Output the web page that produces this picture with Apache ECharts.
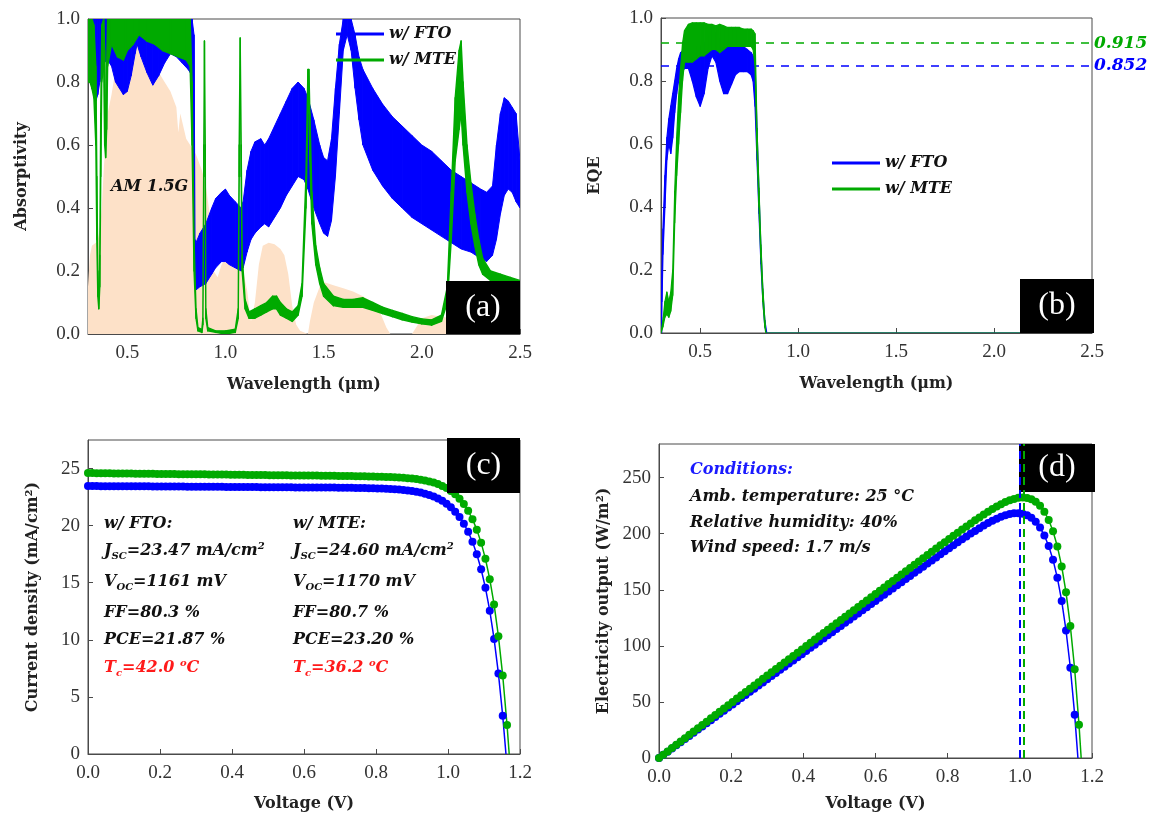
<!DOCTYPE html>
<html>
<head>
<meta charset="utf-8">
<script src="https://cdn.jsdelivr.net/npm/echarts@6/dist/echarts.min.js"></script>
<style>
html,body{margin:0;padding:0;background:#fff;}
#chart{width:1157px;height:817px;}
</style>
</head>
<body>
<div id="chart"></div>
<script>
// ---------------- DATA ----------------
// (a) AM 1.5G spectrum (normalized)
const am15gLam = [0.30,0.31,0.32,0.33,0.34,0.35,0.36,0.37,0.38,0.39,0.40,0.42,0.44,0.46,0.48,0.50,0.52,0.54,0.55,0.57,0.60,0.63,0.66,0.69,0.72,0.75,0.76,0.77,0.80,0.82,0.85,0.88,0.90,0.92,0.93,0.94,0.96,0.98,1.00,1.03,1.06,1.09,1.11,1.13,1.15,1.17,1.19,1.22,1.25,1.28,1.30,1.32,1.34,1.36,1.38,1.42,1.43,1.45,1.48,1.50,1.55,1.60,1.65,1.70,1.75,1.78,1.80,1.82,1.84,1.95,1.97,2.00,2.05,2.10,2.15,2.20,2.25,2.30,2.35,2.40,2.45,2.50];
const am15gVal = [0.15,0.25,0.28,0.28,0.29,0.30,0.33,0.40,0.52,0.62,0.70,0.76,0.84,0.86,0.88,0.89,0.90,0.92,0.93,0.90,0.88,0.86,0.83,0.80,0.77,0.72,0.64,0.70,0.62,0.60,0.57,0.52,0.47,0.38,0.30,0.20,0.18,0.22,0.24,0.235,0.22,0.20,0.14,0.04,0.10,0.22,0.28,0.29,0.285,0.27,0.25,0.19,0.09,0.03,0.01,0.0,0.04,0.10,0.15,0.165,0.155,0.145,0.135,0.12,0.10,0.08,0.05,0.02,0.0,0.0,0.02,0.05,0.06,0.055,0.05,0.045,0.04,0.035,0.02,0.01,0.005,0.0];

// (a) Absorptivity, w/ FTO : lower / upper envelope of the oscillating curve
const absFtoLam = [0.30,0.31,0.32,0.33,0.34,0.35,0.36,0.38,0.40,0.42,0.44,0.46,0.48,0.50,0.52,0.54,0.55,0.57,0.60,0.63,0.66,0.69,0.72,0.75,0.78,0.81,0.83,0.84,0.845,0.85,0.87,0.90,0.93,0.95,0.98,1.00,1.02,1.05,1.08,1.09,1.11,1.13,1.15,1.18,1.20,1.22,1.25,1.28,1.31,1.34,1.37,1.40,1.42,1.45,1.48,1.50,1.52,1.54,1.56,1.58,1.60,1.62,1.64,1.66,1.68,1.70,1.75,1.80,1.85,1.90,1.95,2.00,2.05,2.10,2.15,2.20,2.25,2.30,2.33,2.36,2.38,2.40,2.42,2.44,2.46,2.48,2.50];
const absFtoLow = [0.88,0.83,0.78,0.76,0.74,0.76,0.80,0.86,0.87,0.85,0.80,0.78,0.76,0.77,0.82,0.89,0.92,0.88,0.83,0.79,0.82,0.86,0.89,0.88,0.86,0.84,0.82,0.30,0.16,0.14,0.15,0.16,0.19,0.21,0.23,0.23,0.22,0.21,0.20,0.21,0.26,0.30,0.32,0.34,0.35,0.34,0.37,0.40,0.44,0.47,0.50,0.49,0.46,0.40,0.35,0.32,0.31,0.36,0.50,0.70,0.90,0.95,0.90,0.78,0.68,0.60,0.52,0.47,0.43,0.40,0.37,0.35,0.33,0.31,0.29,0.27,0.26,0.24,0.23,0.25,0.30,0.38,0.44,0.46,0.45,0.42,0.40];
const absFtoHigh = [1,1,1,1,1,1,1,1,1,1,1,1,1,1,1,1,1,1,1,1,1,1,1,1,1,1,1,0.95,0.30,0.29,0.32,0.35,0.40,0.43,0.45,0.46,0.44,0.42,0.40,0.42,0.52,0.58,0.61,0.62,0.60,0.62,0.66,0.70,0.74,0.78,0.80,0.78,0.75,0.68,0.60,0.56,0.55,0.62,0.78,0.92,1.0,1.0,1.0,0.95,0.88,0.84,0.78,0.73,0.69,0.66,0.63,0.60,0.58,0.55,0.52,0.50,0.48,0.46,0.45,0.47,0.60,0.70,0.75,0.74,0.72,0.70,0.55];

// (a) Absorptivity, w/ MTE
const absMteLam = [0.30,0.31,0.32,0.33,0.34,0.345,0.35,0.355,0.36,0.365,0.37,0.38,0.385,0.39,0.395,0.40,0.42,0.45,0.48,0.50,0.53,0.56,0.60,0.64,0.68,0.72,0.76,0.80,0.82,0.83,0.84,0.85,0.86,0.88,0.885,0.89,0.893,0.897,0.90,0.91,0.95,1.00,1.05,1.065,1.07,1.075,1.08,1.085,1.10,1.12,1.15,1.18,1.21,1.24,1.26,1.28,1.31,1.34,1.37,1.39,1.41,1.42,1.425,1.43,1.44,1.46,1.48,1.50,1.55,1.60,1.65,1.70,1.75,1.80,1.85,1.90,1.95,2.00,2.05,2.10,2.13,2.15,2.17,2.19,2.20,2.21,2.23,2.25,2.27,2.29,2.31,2.35,2.40,2.45,2.50];
const absMteLow = [0.80,0.80,0.78,0.75,0.60,0.30,0.12,0.08,0.15,0.50,0.80,0.85,0.60,0.56,0.65,0.85,0.92,0.88,0.87,0.90,0.92,0.95,0.93,0.92,0.90,0.89,0.88,0.87,0.85,0.60,0.20,0.05,0.01,0.005,0.03,0.50,0.91,0.50,0.05,0.01,0.005,0.0,0.005,0.05,0.50,0.93,0.50,0.20,0.08,0.05,0.05,0.06,0.07,0.08,0.08,0.06,0.05,0.04,0.06,0.12,0.40,0.70,0.75,0.55,0.35,0.22,0.16,0.12,0.09,0.085,0.085,0.085,0.075,0.065,0.055,0.045,0.038,0.032,0.028,0.04,0.10,0.30,0.55,0.65,0.70,0.60,0.45,0.35,0.28,0.22,0.19,0.17,0.16,0.15,0.15];
const absMteHigh = [1.0,1.0,1.0,0.98,0.85,0.50,0.20,0.10,0.25,0.70,0.98,1.0,0.90,0.60,0.85,1.0,1.0,1.0,1.0,1.0,1.0,1.0,1.0,1.0,1.0,1.0,1.0,1.0,1.0,0.80,0.30,0.08,0.02,0.015,0.05,0.60,0.93,0.60,0.08,0.02,0.01,0.01,0.015,0.08,0.60,0.94,0.60,0.25,0.11,0.07,0.08,0.09,0.10,0.12,0.12,0.10,0.08,0.07,0.09,0.16,0.50,0.84,0.84,0.70,0.45,0.28,0.21,0.16,0.12,0.11,0.11,0.115,0.10,0.085,0.075,0.065,0.055,0.048,0.045,0.06,0.15,0.45,0.75,0.90,0.93,0.80,0.60,0.48,0.38,0.30,0.24,0.20,0.19,0.18,0.17];

// (b) EQE, w/ FTO
const eqeFtoLam = [0.300,0.303,0.305,0.31,0.32,0.33,0.34,0.35,0.36,0.37,0.38,0.39,0.40,0.42,0.44,0.46,0.48,0.50,0.52,0.54,0.56,0.58,0.60,0.62,0.64,0.66,0.68,0.70,0.72,0.74,0.76,0.77,0.78,0.79,0.80,0.81,0.82,0.83,0.84,2.50];
const eqeFtoLow = [0,0,0.10,0.25,0.40,0.55,0.60,0.57,0.62,0.70,0.76,0.80,0.82,0.84,0.84,0.80,0.75,0.72,0.76,0.84,0.88,0.86,0.80,0.76,0.76,0.79,0.82,0.83,0.83,0.83,0.82,0.80,0.72,0.55,0.38,0.22,0.10,0.02,0,0];
const eqeFtoHigh = [0,0.05,0.20,0.33,0.50,0.62,0.68,0.72,0.76,0.80,0.84,0.87,0.89,0.90,0.90,0.90,0.91,0.91,0.92,0.93,0.97,0.95,0.93,0.92,0.92,0.92,0.92,0.91,0.91,0.90,0.89,0.88,0.86,0.65,0.45,0.27,0.13,0.04,0,0];
// (b) EQE, w/ MTE
const eqeMteLam = [0.300,0.31,0.32,0.33,0.34,0.35,0.36,0.37,0.38,0.39,0.40,0.41,0.42,0.44,0.46,0.48,0.50,0.52,0.54,0.56,0.58,0.60,0.62,0.64,0.66,0.68,0.70,0.72,0.74,0.76,0.77,0.78,0.79,0.80,0.81,0.82,0.83,0.835,2.50];
const eqeMteLow = [0,0.02,0.05,0.06,0.05,0.07,0.12,0.35,0.50,0.60,0.70,0.80,0.86,0.86,0.86,0.87,0.88,0.88,0.89,0.90,0.90,0.89,0.90,0.91,0.91,0.91,0.91,0.91,0.91,0.91,0.90,0.85,0.58,0.40,0.24,0.10,0.02,0,0];
const eqeMteHigh = [0,0.04,0.10,0.13,0.10,0.13,0.20,0.45,0.62,0.75,0.84,0.92,0.96,0.98,0.985,0.985,0.985,0.985,0.98,0.98,0.975,0.98,0.975,0.97,0.97,0.97,0.97,0.965,0.965,0.965,0.96,0.95,0.65,0.46,0.28,0.14,0.04,0,0];
const eqeAvgFto = 0.852;
const eqeAvgMte = 0.915;

// (c)/(d) J-V data
const jvVoltage = [0.000,0.012,0.024,0.036,0.048,0.060,0.072,0.084,0.096,0.108,
0.120,0.132,0.144,0.156,0.168,0.180,0.192,0.204,0.216,0.228,
0.240,0.252,0.264,0.276,0.288,0.300,0.312,0.324,0.336,0.348,
0.360,0.372,0.384,0.396,0.408,0.420,0.432,0.444,0.456,0.468,
0.480,0.492,0.504,0.516,0.528,0.540,0.552,0.564,0.576,0.588,
0.600,0.612,0.624,0.636,0.648,0.660,0.672,0.684,0.696,0.708,
0.720,0.732,0.744,0.756,0.768,0.780,0.792,0.804,0.816,0.828,
0.840,0.852,0.864,0.876,0.888,0.900,0.912,0.924,0.936,0.948,
0.960,0.972,0.984,0.996,1.008,1.020,1.032,1.044,1.056,1.068,
1.080,1.092,1.104,1.116,1.128,1.140,1.152,1.164];
const jFto = [23.47,23.47,23.47,23.46,23.46,23.46,23.46,23.45,23.45,23.45,
23.45,23.44,23.44,23.44,23.44,23.43,23.43,23.43,23.43,23.42,
23.42,23.42,23.42,23.41,23.41,23.41,23.41,23.41,23.40,23.40,
23.40,23.40,23.39,23.39,23.39,23.39,23.38,23.38,23.38,23.38,
23.37,23.37,23.37,23.37,23.36,23.36,23.36,23.36,23.35,23.35,
23.35,23.35,23.34,23.34,23.34,23.33,23.33,23.33,23.32,23.32,
23.31,23.31,23.30,23.30,23.29,23.28,23.27,23.26,23.25,23.23,
23.21,23.19,23.16,23.12,23.08,23.03,22.97,22.90,22.80,22.69,
22.55,22.38,22.17,21.92,21.61,21.22,20.75,20.17,19.46,18.58,
17.50,16.18,14.55,12.55,10.08,7.06,3.34];
const jMte = [24.60,24.60,24.59,24.59,24.58,24.58,24.57,24.57,24.57,24.56,
24.56,24.55,24.55,24.55,24.54,24.54,24.53,24.53,24.52,24.52,
24.52,24.51,24.51,24.50,24.50,24.49,24.49,24.49,24.48,24.48,
24.47,24.47,24.47,24.46,24.46,24.45,24.45,24.44,24.44,24.44,
24.43,24.43,24.42,24.42,24.42,24.41,24.41,24.40,24.40,24.39,
24.39,24.38,24.38,24.38,24.37,24.37,24.36,24.36,24.35,24.35,
24.34,24.34,24.33,24.32,24.32,24.31,24.30,24.29,24.28,24.27,
24.25,24.23,24.21,24.19,24.16,24.12,24.08,24.02,23.96,23.87,
23.77,23.64,23.48,23.29,23.04,22.74,22.36,21.89,21.30,20.57,
19.65,18.51,17.09,15.31,13.10,10.32,6.87,2.54];
const vocFto = 1.161;
const vocMte = 1.170;
const mppVFto = 0.998;
const mppVMte = 1.012;

// tick labels
const wlTicks = [0.5, 1.0, 1.5, 2.0, 2.5];

// ---------------- STYLE ----------------
const F = "'Liberation Serif','DejaVu Serif',serif";
const FD = "'DejaVu Serif','Liberation Serif',serif";
const BLUE = '#0000ff';
const GREEN = '#00aa00';
const PEACH = '#fde1c8';
const AX = '#4a4a4a';

// filled band between a lower and an upper envelope, drawn as trapezoids via the axes' scales
function band(gi, lam, low, high, color, name, lw, z) {
  const data = [];
  for (let i = 0; i < lam.length - 1; i++) {
    data.push([lam[i], lam[i + 1], low[i], low[i + 1], high[i], high[i + 1]]);
  }
  return {
    type: 'custom', name: name, xAxisIndex: gi, yAxisIndex: gi, data: data, silent: true, z: z, clip: true,
    itemStyle: { color: color },
    encode: { x: [0, 1], y: [2, 3, 4, 5] },
    renderItem: function (params, api) {
      const p1 = api.coord([api.value(0), api.value(2)]);
      const p2 = api.coord([api.value(1), api.value(3)]);
      const p3 = api.coord([api.value(1), api.value(5)]);
      const p4 = api.coord([api.value(0), api.value(4)]);
      return { type: 'polygon', shape: { points: [p1, p2, p3, p4] },
        style: { fill: color, stroke: color, lineWidth: lw, lineJoin: 'round' } };
    }
  };
}

const labelStyle = { fontFamily: F, fontSize: 19, color: '#333', margin: 10 };
const nameStyle = { fontFamily: FD, fontSize: 16, fontWeight: 'bold', color: '#222' };
const axLine = { show: true, lineStyle: { color: AX, width: 1 } };
const tick = { show: true, inside: true, length: 5, lineStyle: { color: AX } };

function xAxisWl(gi) {
  return { type: 'value', gridIndex: gi, min: 0.3, max: 2.5,
    name: 'Wavelength (\u03bcm)', nameLocation: 'middle', nameGap: 43, nameTextStyle: nameStyle,
    axisLine: axLine, axisTick: Object.assign({}, tick, { customValues: wlTicks }),
    axisLabel: Object.assign({}, labelStyle, { customValues: wlTicks, formatter: v => v.toFixed(1) }),
    splitLine: { show: false } };
}
function yAxis01(gi, name) {
  return { type: 'value', gridIndex: gi, min: 0, max: 1, interval: 0.2,
    name: name, nameLocation: 'middle', nameGap: 58, nameTextStyle: nameStyle,
    axisLine: axLine, axisTick: tick,
    axisLabel: Object.assign({}, labelStyle, { margin: 8, formatter: v => v.toFixed(1) }),
    splitLine: { show: false } };
}
function xAxisV(gi, gap) {
  return { type: 'value', gridIndex: gi, min: 0, max: 1.2, interval: 0.2,
    name: 'Voltage (V)', nameLocation: 'middle', nameGap: gap, nameTextStyle: nameStyle,
    axisLine: axLine, axisTick: tick,
    axisLabel: Object.assign({}, labelStyle, { formatter: v => v.toFixed(1) }),
    splitLine: { show: false } };
}

const jvFtoData = jvVoltage.slice(0, jFto.length).map((v, i) => [v, jFto[i]]);
const jvMteData = jvVoltage.slice(0, jMte.length).map((v, i) => [v, jMte[i]]);
const pFtoData = jvVoltage.slice(0, jFto.length).map((v, i) => [v, +(10 * v * jFto[i]).toFixed(2)]);
const pMteData = jvVoltage.slice(0, jMte.length).map((v, i) => [v, +(10 * v * jMte[i]).toFixed(2)]);

function jvSeries(gi, data, voc, color, name) {
  return { type: 'line', name: name, xAxisIndex: gi, yAxisIndex: gi,
    data: data.concat([{ value: [voc, 0], symbol: 'none' }]),
    symbol: 'circle', symbolSize: 8, showAllSymbol: true, silent: true,
    lineStyle: { color: color, width: 1.5 }, itemStyle: { color: color }, z: 3 };
}

const series = [
  { type: 'line', name: 'AM 1.5G', xAxisIndex: 0, yAxisIndex: 0,
    data: am15gLam.map((x, i) => [x, am15gVal[i]]), symbol: 'none', silent: true,
    lineStyle: { width: 0, color: PEACH }, areaStyle: { color: PEACH, opacity: 1 }, itemStyle: { color: PEACH }, z: 1 },
  band(0, absFtoLam, absFtoLow, absFtoHigh, BLUE, 'w/ FTO', 1, 2),
  band(0, absMteLam, absMteLow, absMteHigh, GREEN, 'w/ MTE', 1.4, 3),
  { type: 'line', xAxisIndex: 1, yAxisIndex: 1, data: [], z: 1, silent: true,
    markLine: { symbol: ['none', 'none'], silent: true, z: 1,
      label: { show: true, position: 'end', distance: 2, fontFamily: FD, fontSize: 17, fontStyle: 'italic', fontWeight: 'bold' },
      data: [
        { yAxis: eqeAvgMte, lineStyle: { color: GREEN, type: [8, 7], width: 1.6 }, label: { formatter: eqeAvgMte.toFixed(3), color: GREEN } },
        { yAxis: eqeAvgFto, lineStyle: { color: BLUE, type: [8, 7], width: 1.6 }, label: { formatter: eqeAvgFto.toFixed(3), color: BLUE } }
      ] } },
  band(1, eqeFtoLam, eqeFtoLow, eqeFtoHigh, BLUE, 'w/ FTO', 1.2, 2),
  band(1, eqeMteLam, eqeMteLow, eqeMteHigh, GREEN, 'w/ MTE', 1.2, 3),
  jvSeries(2, jvFtoData, vocFto, BLUE, 'J FTO'),
  jvSeries(2, jvMteData, vocMte, GREEN, 'J MTE'),
  jvSeries(3, pFtoData, vocFto, BLUE, 'P FTO'),
  jvSeries(3, pMteData, vocMte, GREEN, 'P MTE'),
  { type: 'line', xAxisIndex: 3, yAxisIndex: 3, data: [], z: 20, silent: true,
    markLine: { symbol: ['none', 'none'], silent: true, z: 20, label: { show: false },
      data: [
        { xAxis: mppVFto, lineStyle: { color: BLUE, type: [8, 5], width: 2 } },
        { xAxis: mppVMte, lineStyle: { color: GREEN, type: [8, 5], width: 2 } }
      ] } }
];

const rb = { fontFamily: FD, fontSize: 16, fontStyle: 'italic', fontWeight: 'bold', fill: '#111' };
const rich = {
  b: rb,
  s: Object.assign({}, rb, { fontSize: 10, padding: [10, 0, 0, 0] }),
  p: Object.assign({}, rb, { fontSize: 10, padding: [0, 0, 10, 0] }),
  r: Object.assign({}, rb, { fill: '#ff1a1a' }),
  rs: Object.assign({}, rb, { fill: '#ff1a1a', fontSize: 10, padding: [10, 0, 0, 0] }),
  rp: Object.assign({}, rb, { fill: '#ff1a1a', fontSize: 10, padding: [0, 0, 10, 0] }),
  bl: Object.assign({}, rb, { fill: '#1a1aff' })
};
function txt(x, y, t) {
  return { type: 'text', x: x, y: y, z: 10, silent: true,
    style: { text: t, rich: rich, align: 'left', verticalAlign: 'middle' } };
}
function box(x, y, w, h, t) {
  return [
    { type: 'rect', z: 10, silent: true, shape: { x: x, y: y, width: w, height: h }, style: { fill: '#000' } },
    { type: 'text', z: 11, silent: true, x: x + w / 2, y: y + h / 2,
      style: { text: t, fill: '#fff', font: '32px ' + F, align: 'center', verticalAlign: 'middle' } }
  ];
}

const graphics = [
  ...box(446, 281, 74, 53, '(a)'),
  ...box(1020, 279, 74, 54, '(b)'),
  ...box(447, 438, 73, 55, '(c)'),
  ...box(1019, 444, 76, 48, '(d)'),
  txt(111, 187, '{b|AM 1.5G}'),
  txt(104, 524, '{b|w/ FTO:}'),
  txt(104, 551, '{b|J}{s|SC}{b|=23.47 mA/cm}{p|2}'),
  txt(104, 582, '{b|V}{s|OC}{b|=1161 mV}'),
  txt(104, 613, '{b|FF=80.3 %}'),
  txt(104, 640, '{b|PCE=21.87 %}'),
  txt(104, 668, '{r|T}{rs|c}{r|=42.0 }{rp|o}{r|C}'),
  txt(293, 524, '{b|w/ MTE:}'),
  txt(293, 551, '{b|J}{s|SC}{b|=24.60 mA/cm}{p|2}'),
  txt(293, 582, '{b|V}{s|OC}{b|=1170 mV}'),
  txt(293, 613, '{b|FF=80.7 %}'),
  txt(293, 640, '{b|PCE=23.20 %}'),
  txt(293, 668, '{r|T}{rs|c}{r|=36.2 }{rp|o}{r|C}'),
  txt(690, 470, '{bl|Conditions:}'),
  txt(690, 497, '{b|Amb. temperature: 25 \u00b0C}'),
  txt(690, 523, '{b|Relative humidity: 40%}'),
  txt(690, 548, '{b|Wind speed: 1.7 m/s}')
];

const legendText = { fontFamily: FD, fontSize: 16, fontStyle: 'italic', fontWeight: 'bold', color: '#111', lineHeight: 18 };
const legendData = [
  { name: 'w/ FTO', itemStyle: { color: BLUE } },
  { name: 'w/ MTE', itemStyle: { color: GREEN } }
];

const option = {
  animation: false,
  backgroundColor: '#fff',
  grid: [
    { left: 88, top: 19, width: 432, height: 315, show: true, borderColor: AX, borderWidth: 1, backgroundColor: 'transparent', outerBoundsMode: 'none' },
    { left: 661, top: 18, width: 431, height: 315, show: true, borderColor: AX, borderWidth: 1, backgroundColor: 'transparent', outerBoundsMode: 'none' },
    { left: 88, top: 440, width: 432, height: 314, show: true, borderColor: AX, borderWidth: 1, backgroundColor: 'transparent', outerBoundsMode: 'none' },
    { left: 659, top: 444, width: 433, height: 314, show: true, borderColor: AX, borderWidth: 1, backgroundColor: 'transparent', outerBoundsMode: 'none' }
  ],
  xAxis: [ xAxisWl(0), xAxisWl(1), xAxisV(2, 42), xAxisV(3, 38) ],
  yAxis: [
    yAxis01(0, 'Absorptivity'),
    yAxis01(1, 'EQE'),
    { type: 'value', gridIndex: 2, min: 0, max: 27.5, interval: 5,
      name: 'Current density (mA/cm\u00b2)', nameLocation: 'middle', nameGap: 47, nameTextStyle: nameStyle,
      axisLine: axLine, axisTick: tick,
      axisLabel: Object.assign({}, labelStyle, { margin: 8, showMaxLabel: false }), splitLine: { show: false } },
    { type: 'value', gridIndex: 3, min: 0, max: 280, interval: 50,
      name: 'Electricity output (W/m\u00b2)', nameLocation: 'middle', nameGap: 47, nameTextStyle: nameStyle,
      axisLine: axLine, axisTick: tick,
      axisLabel: Object.assign({}, labelStyle, { margin: 8, showMaxLabel: false }), splitLine: { show: false } }
  ],
  legend: [
    { left: 331, top: 20, orient: 'vertical', data: legendData, icon: 'rect',
      itemWidth: 48, itemHeight: 3, itemGap: 8, selectedMode: false, textStyle: legendText },
    { left: 827, top: 149, orient: 'vertical', data: legendData, icon: 'rect',
      itemWidth: 48, itemHeight: 3, itemGap: 8, selectedMode: false, textStyle: legendText }
  ],
  graphic: { elements: graphics },
  series: series
};

const chart = echarts.init(document.getElementById('chart'), null, { renderer: 'canvas' });
chart.setOption(option);
</script>
</body>
</html>
